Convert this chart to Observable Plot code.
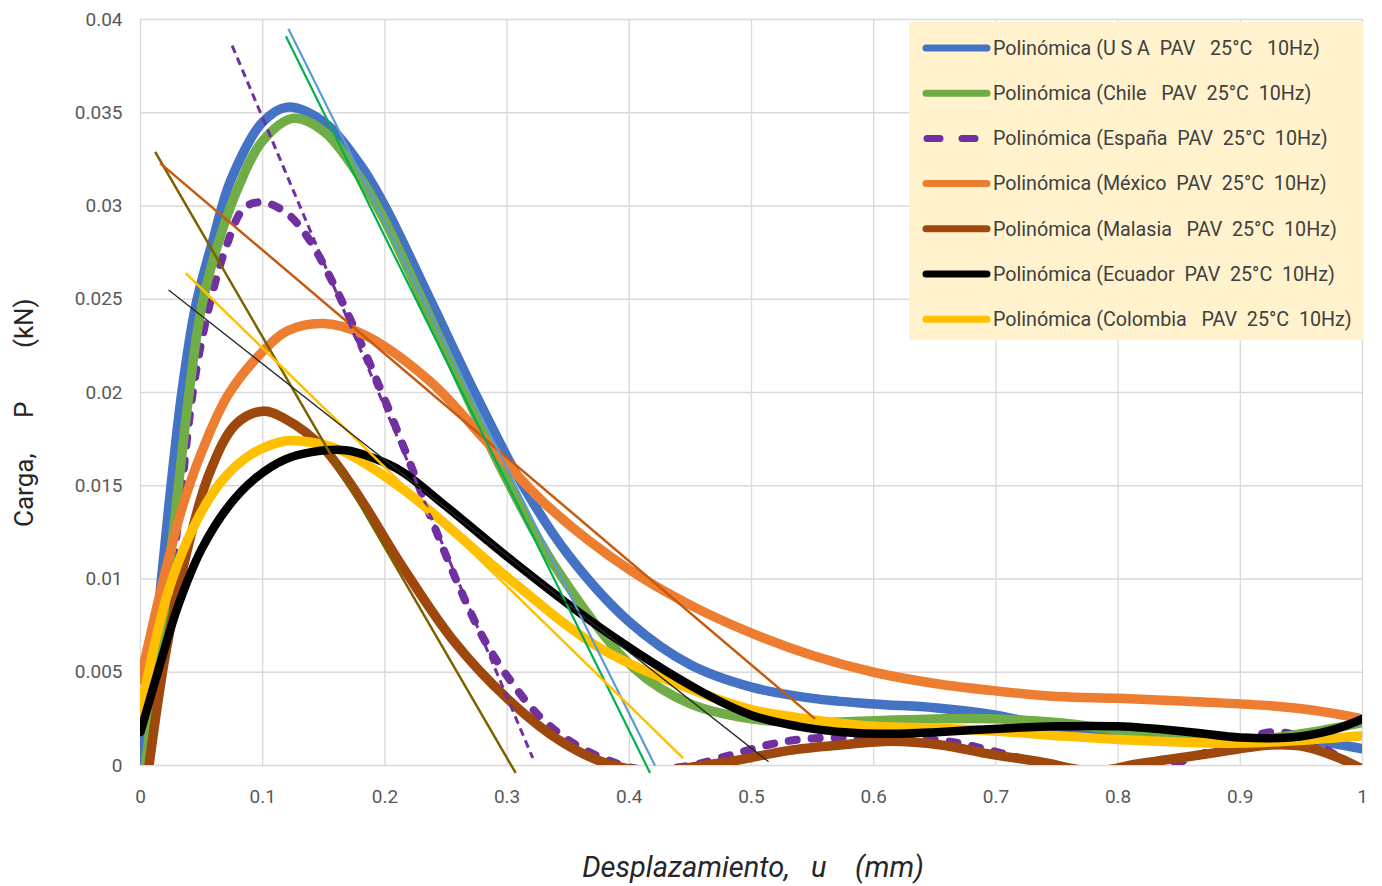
<!DOCTYPE html>
<html>
<head>
<meta charset="utf-8">
<script src="https://cdn.jsdelivr.net/npm/d3@7"></script>
<script src="https://cdn.jsdelivr.net/npm/@observablehq/plot@0.6"></script>
<style>
  html, body { margin: 0; padding: 0; background: #fff; }
  #wrap { position: relative; width: 1382px; height: 886px; }
  #wrap svg text { white-space: pre; }
  #legend { position: absolute; left: 0; top: 0; }
</style>
</head>
<body>
<div id="wrap"></div>
<script>
// ---- Data ----
const xTicks = [0, 0.1, 0.2, 0.3, 0.4, 0.5, 0.6, 0.7, 0.8, 0.9, 1];
const yTicks = [0, 0.005, 0.01, 0.015, 0.02, 0.025, 0.03, 0.035, 0.04];

const usa = [[0,0],[0.012,0.0067],[0.023,0.0138],[0.034,0.0201],[0.045,0.0246],[0.059,0.0281],[0.074,0.0314],[0.1,0.0345],[0.12,0.0353],[0.15,0.0345],[0.18,0.0322],[0.2,0.0300],[0.237,0.0250],[0.275,0.0198],[0.313,0.0150],[0.35,0.0113],[0.4,0.0077],[0.45,0.0054],[0.5,0.0042],[0.55,0.0036],[0.6,0.0033],[0.65,0.0031],[0.7,0.0027],[0.75,0.0020],[0.8,0.0015],[0.85,0.0013],[0.9,0.0014],[0.95,0.0014],[1,0.0009]];
const chile = [[0.004,0],[0.018,0.0075],[0.029,0.0138],[0.04,0.0201],[0.05,0.0246],[0.064,0.0281],[0.08,0.0310],[0.1,0.0335],[0.125,0.0347],[0.15,0.0340],[0.18,0.0315],[0.2,0.0292],[0.25,0.0222],[0.3,0.0153],[0.344,0.0102],[0.404,0.0052],[0.45,0.0033],[0.5,0.0025],[0.55,0.0023],[0.6,0.0024],[0.65,0.0025],[0.7,0.0025],[0.75,0.0023],[0.8,0.0019],[0.85,0.0015],[0.9,0.0013],[0.95,0.0017],[1,0.0023]];
const espana = [[0.007,0],[0.021,0.0075],[0.032,0.0138],[0.043,0.0201],[0.054,0.0240],[0.07,0.0278],[0.085,0.0299],[0.1,0.0302],[0.12,0.0296],[0.137,0.0283],[0.155,0.0262],[0.178,0.0230],[0.2,0.0196],[0.22,0.0163],[0.24,0.0129],[0.26,0.0097],[0.28,0.0069],[0.3,0.0048],[0.327,0.0026],[0.354,0.0012],[0.382,0.0003],[0.41,-0.0002],[0.45,0],[0.485,0.0006],[0.513,0.0011],[0.54,0.0014],[0.573,0.0015],[0.61,0.0015],[0.66,0.0013],[0.69,0.0009],[0.72,0.0004],[0.76,-0.0002],[0.8,-0.0004],[0.84,0],[0.86,0.0004],[0.88,0.0009],[0.93,0.0018],[0.96,0.0012],[0.99,0.0001],[1,-0.0002]];
const mexico = [[0,0.0046],[0.017,0.0095],[0.034,0.0138],[0.05,0.0168],[0.072,0.0199],[0.1,0.0222],[0.12,0.0233],[0.15,0.0237],[0.183,0.0231],[0.237,0.0206],[0.284,0.0173],[0.335,0.0138],[0.4,0.0105],[0.45,0.0086],[0.5,0.0071],[0.55,0.0059],[0.6,0.0050],[0.65,0.0044],[0.7,0.0040],[0.75,0.0037],[0.8,0.0036],[0.87,0.0034],[0.925,0.0032],[0.966,0.0029],[1,0.0025]];
const malasia = [[0.007,0],[0.02,0.0058],[0.037,0.0112],[0.056,0.0156],[0.078,0.0183],[0.1,0.019],[0.118,0.0186],[0.15,0.0170],[0.18,0.0143],[0.213,0.0108],[0.256,0.0067],[0.3,0.0036],[0.344,0.0013],[0.382,0.0001],[0.42,-0.0003],[0.46,0],[0.49,0.0003],[0.53,0.0008],[0.573,0.0011],[0.614,0.0013],[0.655,0.0011],[0.696,0.0006],[0.736,0.0002],[0.78,-0.0003],[0.817,0.0001],[0.871,0.0006],[0.925,0.0011],[0.953,0.001],[0.981,0.0004],[1,-0.0002]];
const ecuador = [[0,0.0018],[0.015,0.0052],[0.031,0.0086],[0.05,0.0116],[0.072,0.0139],[0.094,0.0154],[0.118,0.0164],[0.14,0.0168],[0.168,0.0169],[0.19,0.0165],[0.213,0.0158],[0.25,0.0139],[0.3,0.0112],[0.376,0.0074],[0.458,0.0040],[0.5,0.0027],[0.538,0.0021],[0.573,0.0018],[0.614,0.0017],[0.655,0.0018],[0.71,0.002],[0.75,0.0021],[0.8,0.0021],[0.858,0.0018],[0.9,0.0015],[0.94,0.0015],[0.975,0.0019],[1,0.0025]];
const colombia = [[0,0.0029],[0.023,0.0094],[0.045,0.013],[0.067,0.0153],[0.091,0.0167],[0.118,0.0174],[0.13,0.0174],[0.16,0.017],[0.213,0.0149],[0.3,0.0101],[0.376,0.0063],[0.458,0.0039],[0.5,0.0030],[0.545,0.0025],[0.6,0.0021],[0.655,0.0020],[0.71,0.0018],[0.75,0.0016],[0.8,0.0014],[0.9,0.0012],[1,0.0016]];

// straight trend lines: [x1, y1], [x2, y2]
const trendUsa = [[0.121,0.0395],[0.421,0]];
const trendChile = [[0.119,0.0391],[0.417,-0.0004]];
const trendEspana = [[0.075,0.0386],[0.321,0.0004]];
const trendMexico = [[0.016,0.0323],[0.552,0.0025]];
const trendMalasia = [[0.012,0.0329],[0.307,-0.0004]];
const trendEcuador = [[0.023,0.0255],[0.514,0.0002]];
const trendColombia = [[0.037,0.0264],[0.444,0.0004]];

const legendLabels = [
  "Polinómica (U S A  PAV   25°C   10Hz)",
  "Polinómica (Chile   PAV  25°C  10Hz)",
  "Polinómica (España  PAV  25°C  10Hz)",
  "Polinómica (México  PAV  25°C  10Hz)",
  "Polinómica (Malasia   PAV  25°C  10Hz)",
  "Polinómica (Ecuador  PAV  25°C  10Hz)",
  "Polinómica (Colombia   PAV  25°C  10Hz)"
];
const seriesColors = ["#4472C4", "#70AD47", "#7030A0", "#ED7D31", "#9E480E", "#000000", "#FFC000"];
const yTitleParts = ["Carga,", "P", "(kN)"];
const xTitle = "Desplazamiento,   u    (mm)";

// ---- Chart ----
const FONT = "'Liberation Sans Narrow', 'Roboto', 'Open Sans', sans-serif";
const X = d => d[0], Y = d => d[1];
const curve = (data, stroke, extra = {}) =>
  Plot.line(data, {x: X, y: Y, stroke, strokeWidth: 9.5, curve: "catmull-rom", clip: true, ...extra});
const trend = (data, stroke, w, extra = {}) =>
  Plot.line(data, {x: X, y: Y, stroke, strokeWidth: w, strokeLinecap: "butt", ...extra});

const fmtY = d => d === 0 ? "0" : String(+d.toFixed(3));

const chart = Plot.plot({
  width: 1382,
  height: 886,
  marginLeft: 140,
  marginRight: 20,
  marginTop: 19,
  marginBottom: 121,
  style: {fontFamily: FONT, color: "#595959", background: "#fff"},
  x: {domain: [0, 1]},
  y: {domain: [0, 0.04]},
  marks: [
    Plot.gridX(xTicks, {stroke: "#D9D9D9", strokeOpacity: 1, strokeWidth: 1.3}),
    Plot.gridY(yTicks, {stroke: "#D9D9D9", strokeOpacity: 1, strokeWidth: 1.3}),
    Plot.axisX(xTicks, {tickSize: 0, tickPadding: 24, fontSize: 19, tickFormat: d => String(d), label: null}),
    Plot.axisY(yTicks, {tickSize: 0, tickPadding: 18, fontSize: 19, tickFormat: fmtY, label: null}),
    curve(usa, seriesColors[0]),
    curve(espana, seriesColors[2], {strokeWidth: 8, strokeDasharray: "8 15"}),
    curve(chile, seriesColors[1]),
    curve(mexico, seriesColors[3]),
    curve(malasia, seriesColors[4]),
    curve(colombia, seriesColors[6]),
    curve(ecuador, seriesColors[5], {strokeWidth: 8.5}),
    trend(trendMalasia, "#7F6000", 2.5),
    trend(trendMexico, "#C55A11", 2.5),
    trend(trendEspana, "#7030A0", 3, {strokeDasharray: "8 5"}),
    trend(trendUsa, "#5B9BD5", 2.2),
    trend(trendChile, "#00B050", 2.2),
    trend(trendColombia, "#FFC000", 2.5),
    trend(trendEcuador, "#262626", 1.3)
  ]
});
document.getElementById("wrap").appendChild(chart);

// ---- Titles and legend (overlay) ----
const lg = d3.select("#wrap").append("svg")
  .attr("id", "legend").attr("width", 1382).attr("height", 886)
  .style("font-family", FONT);

// y-axis title (rotated), pieces spaced like the reference
const yStarts = [527, 418, 348];
yTitleParts.forEach((t, i) => {
  lg.append("text")
    .attr("transform", `translate(33,${yStarts[i]}) rotate(-90)`)
    .attr("font-size", 26).attr("fill", "#262626").text(t);
});
// x-axis title
lg.append("text").attr("x", 753).attr("y", 877).attr("text-anchor", "middle")
  .attr("font-size", 29).attr("font-style", "italic").attr("fill", "#262626").text(xTitle);

// legend box
lg.append("rect").attr("x", 909).attr("y", 22).attr("width", 454).attr("height", 318).attr("fill", "#FFF2CC");
legendLabels.forEach((t, i) => {
  const cy = 48 + i * 45.2;
  const ln = lg.append("line").attr("x1", 926).attr("x2", 987).attr("y1", cy).attr("y2", cy)
    .attr("stroke", seriesColors[i]).attr("stroke-width", 7).attr("stroke-linecap", "round");
  if (i === 2) ln.attr("x1", 927).attr("x2", 978).attr("stroke-dasharray", "13 22");
  lg.append("text").attr("x", 993).attr("y", cy).attr("dy", "0.35em")
    .attr("font-size", 19.7).attr("fill", "#404040").text(t);
});
</script>
</body>
</html>
